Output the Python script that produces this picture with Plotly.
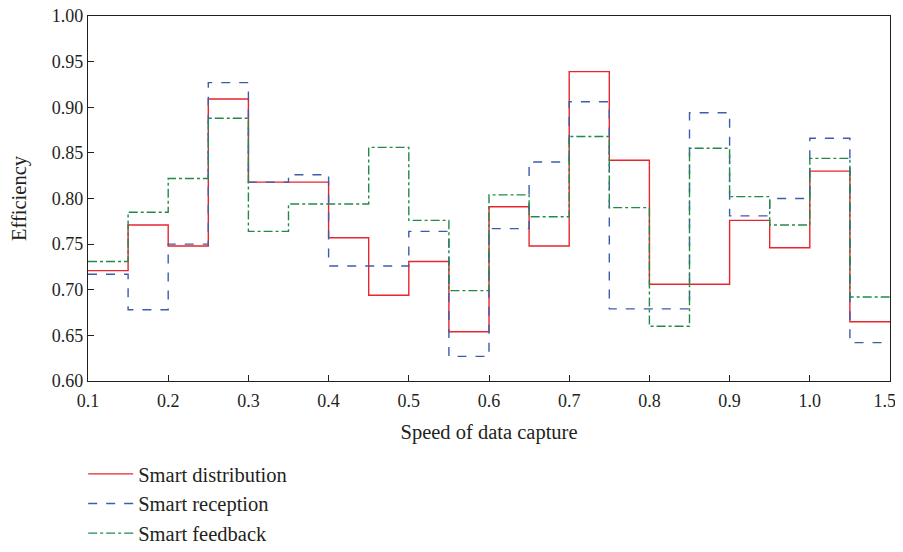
import plotly.graph_objects as go

# step boundaries (left edges of each step, plus final right edge)
x_edges = [0.10, 0.15, 0.20, 0.25, 0.30, 0.35, 0.40, 0.45, 0.50, 0.55,
           0.60, 0.65, 0.70, 0.75, 0.80, 0.85, 0.90, 0.95, 1.00, 1.05, 1.10]

smart_distribution = [0.721, 0.771, 0.748, 0.909, 0.818, 0.818, 0.757, 0.694, 0.731, 0.654,
                      0.791, 0.748, 0.939, 0.842, 0.706, 0.706, 0.776, 0.746, 0.830, 0.665]
smart_reception = [0.717, 0.678, 0.750, 0.927, 0.818, 0.826, 0.726, 0.726, 0.764, 0.627,
                   0.767, 0.840, 0.906, 0.679, 0.679, 0.894, 0.781, 0.800, 0.866, 0.642]
smart_feedback = [0.731, 0.785, 0.822, 0.888, 0.764, 0.794, 0.794, 0.856, 0.776, 0.699,
                  0.804, 0.780, 0.868, 0.790, 0.660, 0.855, 0.802, 0.771, 0.844, 0.692]

x_tickvals = [0.1, 0.2, 0.3, 0.4, 0.5, 0.6, 0.7, 0.8, 0.9, 1.0, 1.1]
# trailing en space keeps the last label inside the visible page
x_ticktext = ["0.1", "0.2", "0.3", "0.4", "0.5", "0.6", "0.7", "0.8", "0.9", "1.0", "1.5\u2002\u200a"]
y_tickvals = [0.60, 0.65, 0.70, 0.75, 0.80, 0.85, 0.90, 0.95, 1.00]

series = [
    ("Smart distribution", smart_distribution, "#e8262d", "solid"),
    ("Smart reception", smart_reception, "#3d5cab", "dash"),
    ("Smart feedback", smart_feedback, "#23894a", "dashdot"),
]

FONT = "Liberation Serif"
fig = go.Figure()
for name, vals, color, dash in series:
    fig.add_trace(go.Scatter(
        x=x_edges, y=vals + [vals[-1]], mode="lines", name=name, legendgroup=name,
        line=dict(shape="hv", color=color, width=1.4, dash=dash),
    ))

# the page body adds an 8px margin, so the figure is smaller and margins shifted
fig.update_layout(
    width=895, height=536,
    margin=dict(l=80, r=13, t=8, b=163, autoexpand=False),
    paper_bgcolor="white", plot_bgcolor="white",
    font=dict(family=FONT, size=18, color="#231f20"),
    showlegend=True,
    legend=dict(x=-0.006, y=-0.2, xanchor="left", yanchor="top",
                font=dict(family=FONT, size=20.5, color="#231f20"),
                tracegroupgap=0, itemwidth=45, bgcolor="rgba(0,0,0,0)"),
    xaxis=dict(range=[0.1, 1.1], tickvals=x_tickvals, ticktext=x_ticktext,
               ticks="inside", ticklen=6, tickcolor="#231f20",
               ticklabeloverflow="allow", ticklabelstandoff=3,
               showline=True, linecolor="#231f20", linewidth=1.2, mirror=True,
               showgrid=False, zeroline=False,
               title=dict(text="Speed of data capture", font=dict(family=FONT, size=20.5), standoff=14)),
    yaxis=dict(range=[0.6, 1.0], tickvals=y_tickvals, tickformat=".2f",
               ticks="inside", ticklen=6, tickcolor="#231f20",
               ticklabeloverflow="allow",
               showline=True, linecolor="#231f20", linewidth=1.2, mirror=True,
               showgrid=False, zeroline=False,
               title=dict(text="Efficiency", font=dict(family=FONT, size=20.5), standoff=20)),
)

fig.write_html("out.html")
